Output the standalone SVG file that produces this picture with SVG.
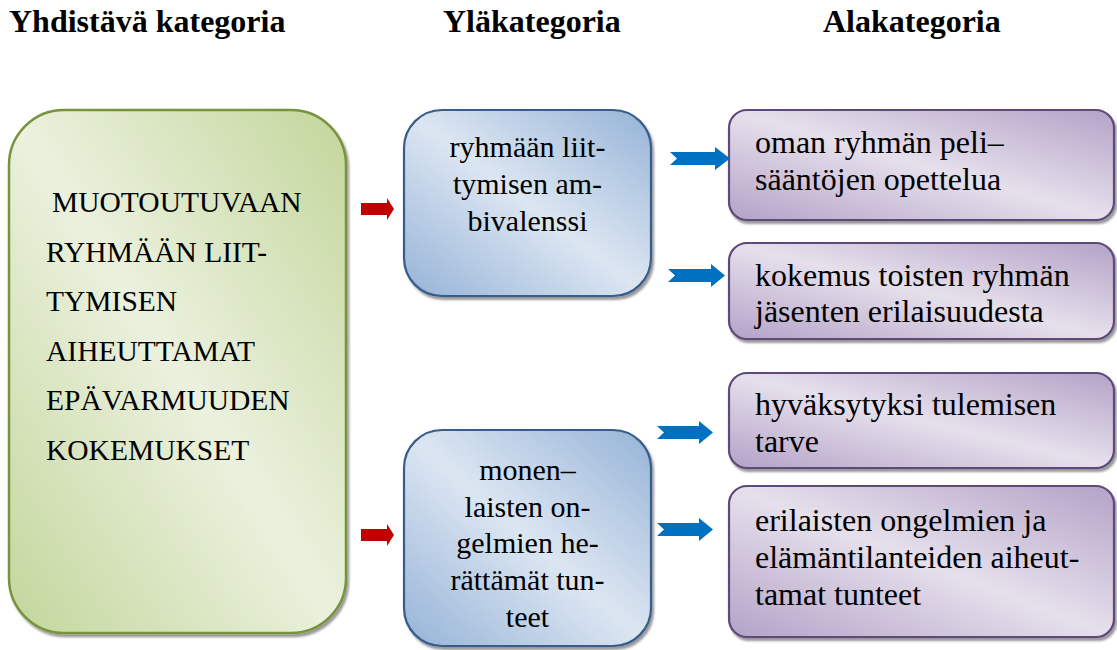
<svg xmlns="http://www.w3.org/2000/svg" width="1117" height="650" viewBox="0 0 1117 650">
<style>
.title{font-family:'Liberation Serif','Times New Roman',Times,serif;font-weight:bold;font-size:32px;fill:#000}
.t{font-family:'Liberation Serif','Times New Roman',Times,serif;font-size:29.5px;fill:#000}
.tc{font-family:'Liberation Serif','Times New Roman',Times,serif;font-size:30px;fill:#000;text-anchor:middle}
.tp{font-family:'Liberation Serif','Times New Roman',Times,serif;font-size:32px;fill:#000}
.red{fill:#C00000}
.blue{fill:#0070C0}
</style>
<defs>
<linearGradient id="gGreen" x1="1" y1="0" x2="0" y2="1">
<stop offset="0" stop-color="#C3D69B"/>
<stop offset="0.5" stop-color="#EBF1DE"/>
<stop offset="1" stop-color="#C3D69B"/>
</linearGradient>
<linearGradient id="gBlue" x1="1" y1="0" x2="0" y2="1">
<stop offset="0" stop-color="#95B3D7"/>
<stop offset="0.5" stop-color="#DCE6F2"/>
<stop offset="1" stop-color="#95B3D7"/>
</linearGradient>
<linearGradient id="gPurple" x1="1" y1="0" x2="0" y2="1">
<stop offset="0" stop-color="#B3A2C7"/>
<stop offset="0.5" stop-color="#E6E0EC"/>
<stop offset="1" stop-color="#B3A2C7"/>
</linearGradient>
<filter id="sh" x="-5%" y="-5%" width="115%" height="115%">
<feDropShadow dx="2" dy="3" stdDeviation="1.2" flood-color="#000" flood-opacity="0.4"/>
</filter>
</defs>
<rect width="1117" height="650" fill="#fff"/>

<g id="headers">
<text class="title" x="9" y="32">Yhdistävä kategoria</text>
<text class="title" x="443" y="32">Yläkategoria</text>
<text class="title" x="823" y="32">Alakategoria</text>
</g>

<g id="node-main">
<rect x="9" y="110" width="337" height="523" rx="55" ry="55" fill="url(#gGreen)" stroke="#77933C" stroke-width="2.5" filter="url(#sh)"/>
<text class="t" x="52" y="212">MUOTOUTUVAAN</text>
<text class="t" x="46" y="261.5">RYHMÄÄN LIIT-</text>
<text class="t" x="46" y="311">TYMISEN</text>
<text class="t" x="46" y="360.5">AIHEUTTAMAT</text>
<text class="t" x="46" y="410">EPÄVARMUUDEN</text>
<text class="t" x="46" y="460">KOKEMUKSET</text>
</g>

<g id="node-ambivalenssi">
<rect x="404" y="110" width="247" height="186" rx="38" ry="38" fill="url(#gBlue)" stroke="#385D8A" stroke-width="2.2" filter="url(#sh)"/>
<text class="tc" x="527.5" y="157">ryhmään liit-</text>
<text class="tc" x="527.5" y="194">tymisen am-</text>
<text class="tc" x="527.5" y="231">bivalenssi</text>
</g>

<g id="node-tunteet">
<rect x="404" y="430" width="247" height="216" rx="38" ry="38" fill="url(#gBlue)" stroke="#385D8A" stroke-width="2.2" filter="url(#sh)"/>
<text class="tc" x="527.5" y="480">monen–</text>
<text class="tc" x="527.5" y="516.7">laisten on-</text>
<text class="tc" x="527.5" y="553.4">gelmien he-</text>
<text class="tc" x="527.5" y="590">rättämät tun-</text>
<text class="tc" x="527.5" y="626.7">teet</text>
</g>

<g id="node-pelisaannot">
<rect x="729" y="110" width="385" height="110" rx="18" ry="18" fill="url(#gPurple)" stroke="#5F497A" stroke-width="2.2" filter="url(#sh)"/>
<text class="tp" x="755" y="153">oman ryhmän peli–</text>
<text class="tp" x="755" y="190">sääntöjen opettelua</text>
</g>

<g id="node-erilaisuus">
<rect x="729" y="243" width="385" height="96" rx="18" ry="18" fill="url(#gPurple)" stroke="#5F497A" stroke-width="2.2" filter="url(#sh)"/>
<text class="tp" x="755" y="286">kokemus toisten ryhmän</text>
<text class="tp" x="755" y="322">jäsenten erilaisuudesta</text>
</g>

<g id="node-hyvaksynta">
<rect x="729" y="373" width="385" height="95" rx="18" ry="18" fill="url(#gPurple)" stroke="#5F497A" stroke-width="2.2" filter="url(#sh)"/>
<text class="tp" x="755" y="415">hyväksytyksi tulemisen</text>
<text class="tp" x="755" y="452">tarve</text>
</g>

<g id="node-elamantilanteet">
<rect x="729" y="486" width="385" height="151" rx="18" ry="18" fill="url(#gPurple)" stroke="#5F497A" stroke-width="2.2" filter="url(#sh)"/>
<text class="tp" x="755" y="531">erilaisten ongelmien ja</text>
<text class="tp" x="755" y="568">elämäntilanteiden aiheut-</text>
<text class="tp" x="755" y="605">tamat tunteet</text>
</g>

<g id="connectors">
<path class="red" d="M361,203 H387 V198 L394,209 L387,220 V215 H361 Z"/>
<path class="red" d="M361,529 H387 V524 L394,535 L387,546 V541 H361 Z"/>
<path class="blue" d="M670,152 H715 V147 L730,158.5 L715,170 V165 H670 L677,158.5 Z"/>
<path class="blue" d="M668,269 H711 V264 L725,275.5 L711,287 V282 H668 L675,275.5 Z"/>
<path class="blue" d="M657,426 H699 V421 L713,432.5 L699,444 V439 H657 L664,432.5 Z"/>
<path class="blue" d="M657,523 H699 V518 L713,529.5 L699,541 V536 H657 L664,529.5 Z"/>
</g>
</svg>
